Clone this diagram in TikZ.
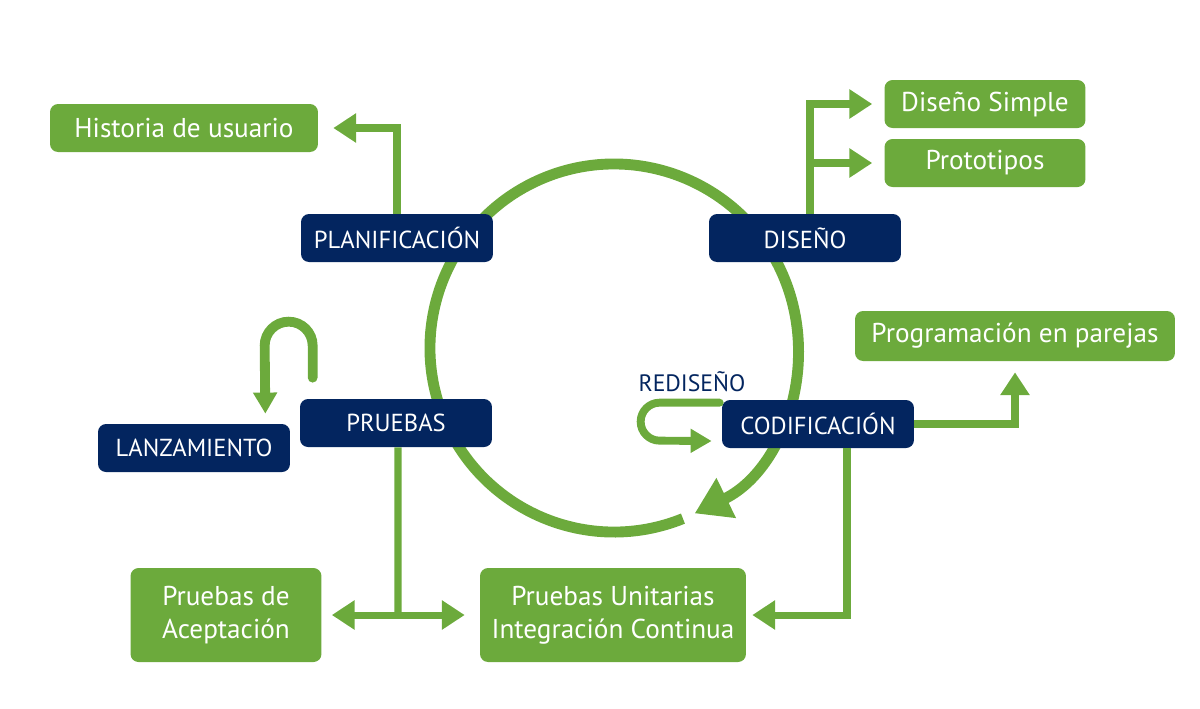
\documentclass[tikz,border=0pt]{standalone}
\usepackage{fontspec}
\setmainfont{PT Sans}
\usetikzlibrary{arrows.meta,positioning}
\definecolor{verde}{RGB}{108,170,60}
\definecolor{marino}{RGB}{3,37,95}
\tikzset{
  fase/.style={fill=marino, text=white, rounded corners=0.16cm, minimum width=3.84cm,
    minimum height=0.96cm, inner sep=0pt, font=\fontsize{14}{16}\selectfont},
  tarea/.style={fill=verde, text=white, rounded corners=0.16cm, minimum height=0.96cm,
    inner sep=0pt, align=center, font=\fontsize{15.5}{19}\selectfont},
  flecha/.style={draw=verde, line width=4pt, -{Triangle[length=13pt,width=16pt]}},
  lazo/.style={draw=verde, line cap=round, -{Triangle[length=12pt,width=13pt]}},
}
\begin{document}
\begin{tikzpicture}[x=0.02cm,y=-0.02cm]
  \useasboundingbox (0,0) rectangle (1200,708);

  % ciclo (debajo de las fases)
  \coordinate (centro) at (614,348);
  \draw[verde, line width=6.2pt, -{Triangle[length=20pt,width=24pt]}]
    ([shift={(68:184)}]centro) arc[start angle=68, end angle=424, radius=184];

  % fases
  \node[fase] (plan) at (397,238) {PLANIFICACIÓN};
  \node[fase] (dis) at (805,238) {DISEÑO};
  \node[fase] (pru) at (396,423) {PRUEBAS};
  \node[fase] (cod) at (818,424) {CODIFICACIÓN};
  \node[fase] (lanz) at (194,448) {LANZAMIENTO};
  \node[text=marino, font=\fontsize{13.5}{16}\selectfont] (redis) at (692,382) {REDISEÑO};

  % tareas
  \node[tarea, minimum width=5.36cm] (hist) at (184,128) {Historia de usuario};
  \node[tarea, minimum width=4.02cm] (simple) at (985,104) {Diseño Simple};
  \node[tarea, minimum width=4.02cm] (proto) at (985,163) {Prototipos};
  \node[tarea, minimum width=6.4cm, minimum height=1cm] (pareja) at (1015,336) {Programación en parejas};
  \node[tarea, minimum width=3.82cm, minimum height=1.88cm] (acept) at (226,615) {Pruebas de\\Aceptación};
  \node[tarea, minimum width=5.32cm, minimum height=1.88cm] (unit) at (613,615) {Pruebas Unitarias\\Integración Continua};

  % conectores
  \draw[flecha] (plan.north) |- ([xshift=0.3cm]hist.east);
  \draw[flecha] ([xshift=0.1cm]dis.north) |- ([xshift=-0.24cm]simple.west);
  \draw[flecha] ([xshift=0.1cm]dis.north) |- ([xshift=-0.24cm]proto.west);
  \draw[flecha] (cod.east) -| ([yshift=-0.22cm]pareja.south);
  \draw[flecha] ([xshift=0.58cm]cod.south) |- ([xshift=0.12cm]unit.east);
  \coordinate (bif) at (398,613);
  \draw[verde, line width=4pt] ([xshift=0.04cm]pru.south) -- (bif);
  \draw[flecha, {Triangle[length=13pt,width=16pt]}-{Triangle[length=13pt,width=16pt]}]
    ([xshift=0.2cm]acept.east) -- ([xshift=-0.3cm]unit.west);

  % lazos
  \draw[lazo, line width=5.6pt] ([shift={(13,-21)}]pru.north west) -- ++(0,-32)
    arc[start angle=0, end angle=-180, radius=24] -- ([shift={(-25,-10)}]lanz.north east);
  \draw[lazo, line width=4.5pt] ([shift={(-2,3)}]cod.north west) -- ++(-60,0)
    arc[start angle=-90, end angle=-270, radius=19] -- ([shift={(-10,17)}]cod.west);
\end{tikzpicture}
\end{document}
